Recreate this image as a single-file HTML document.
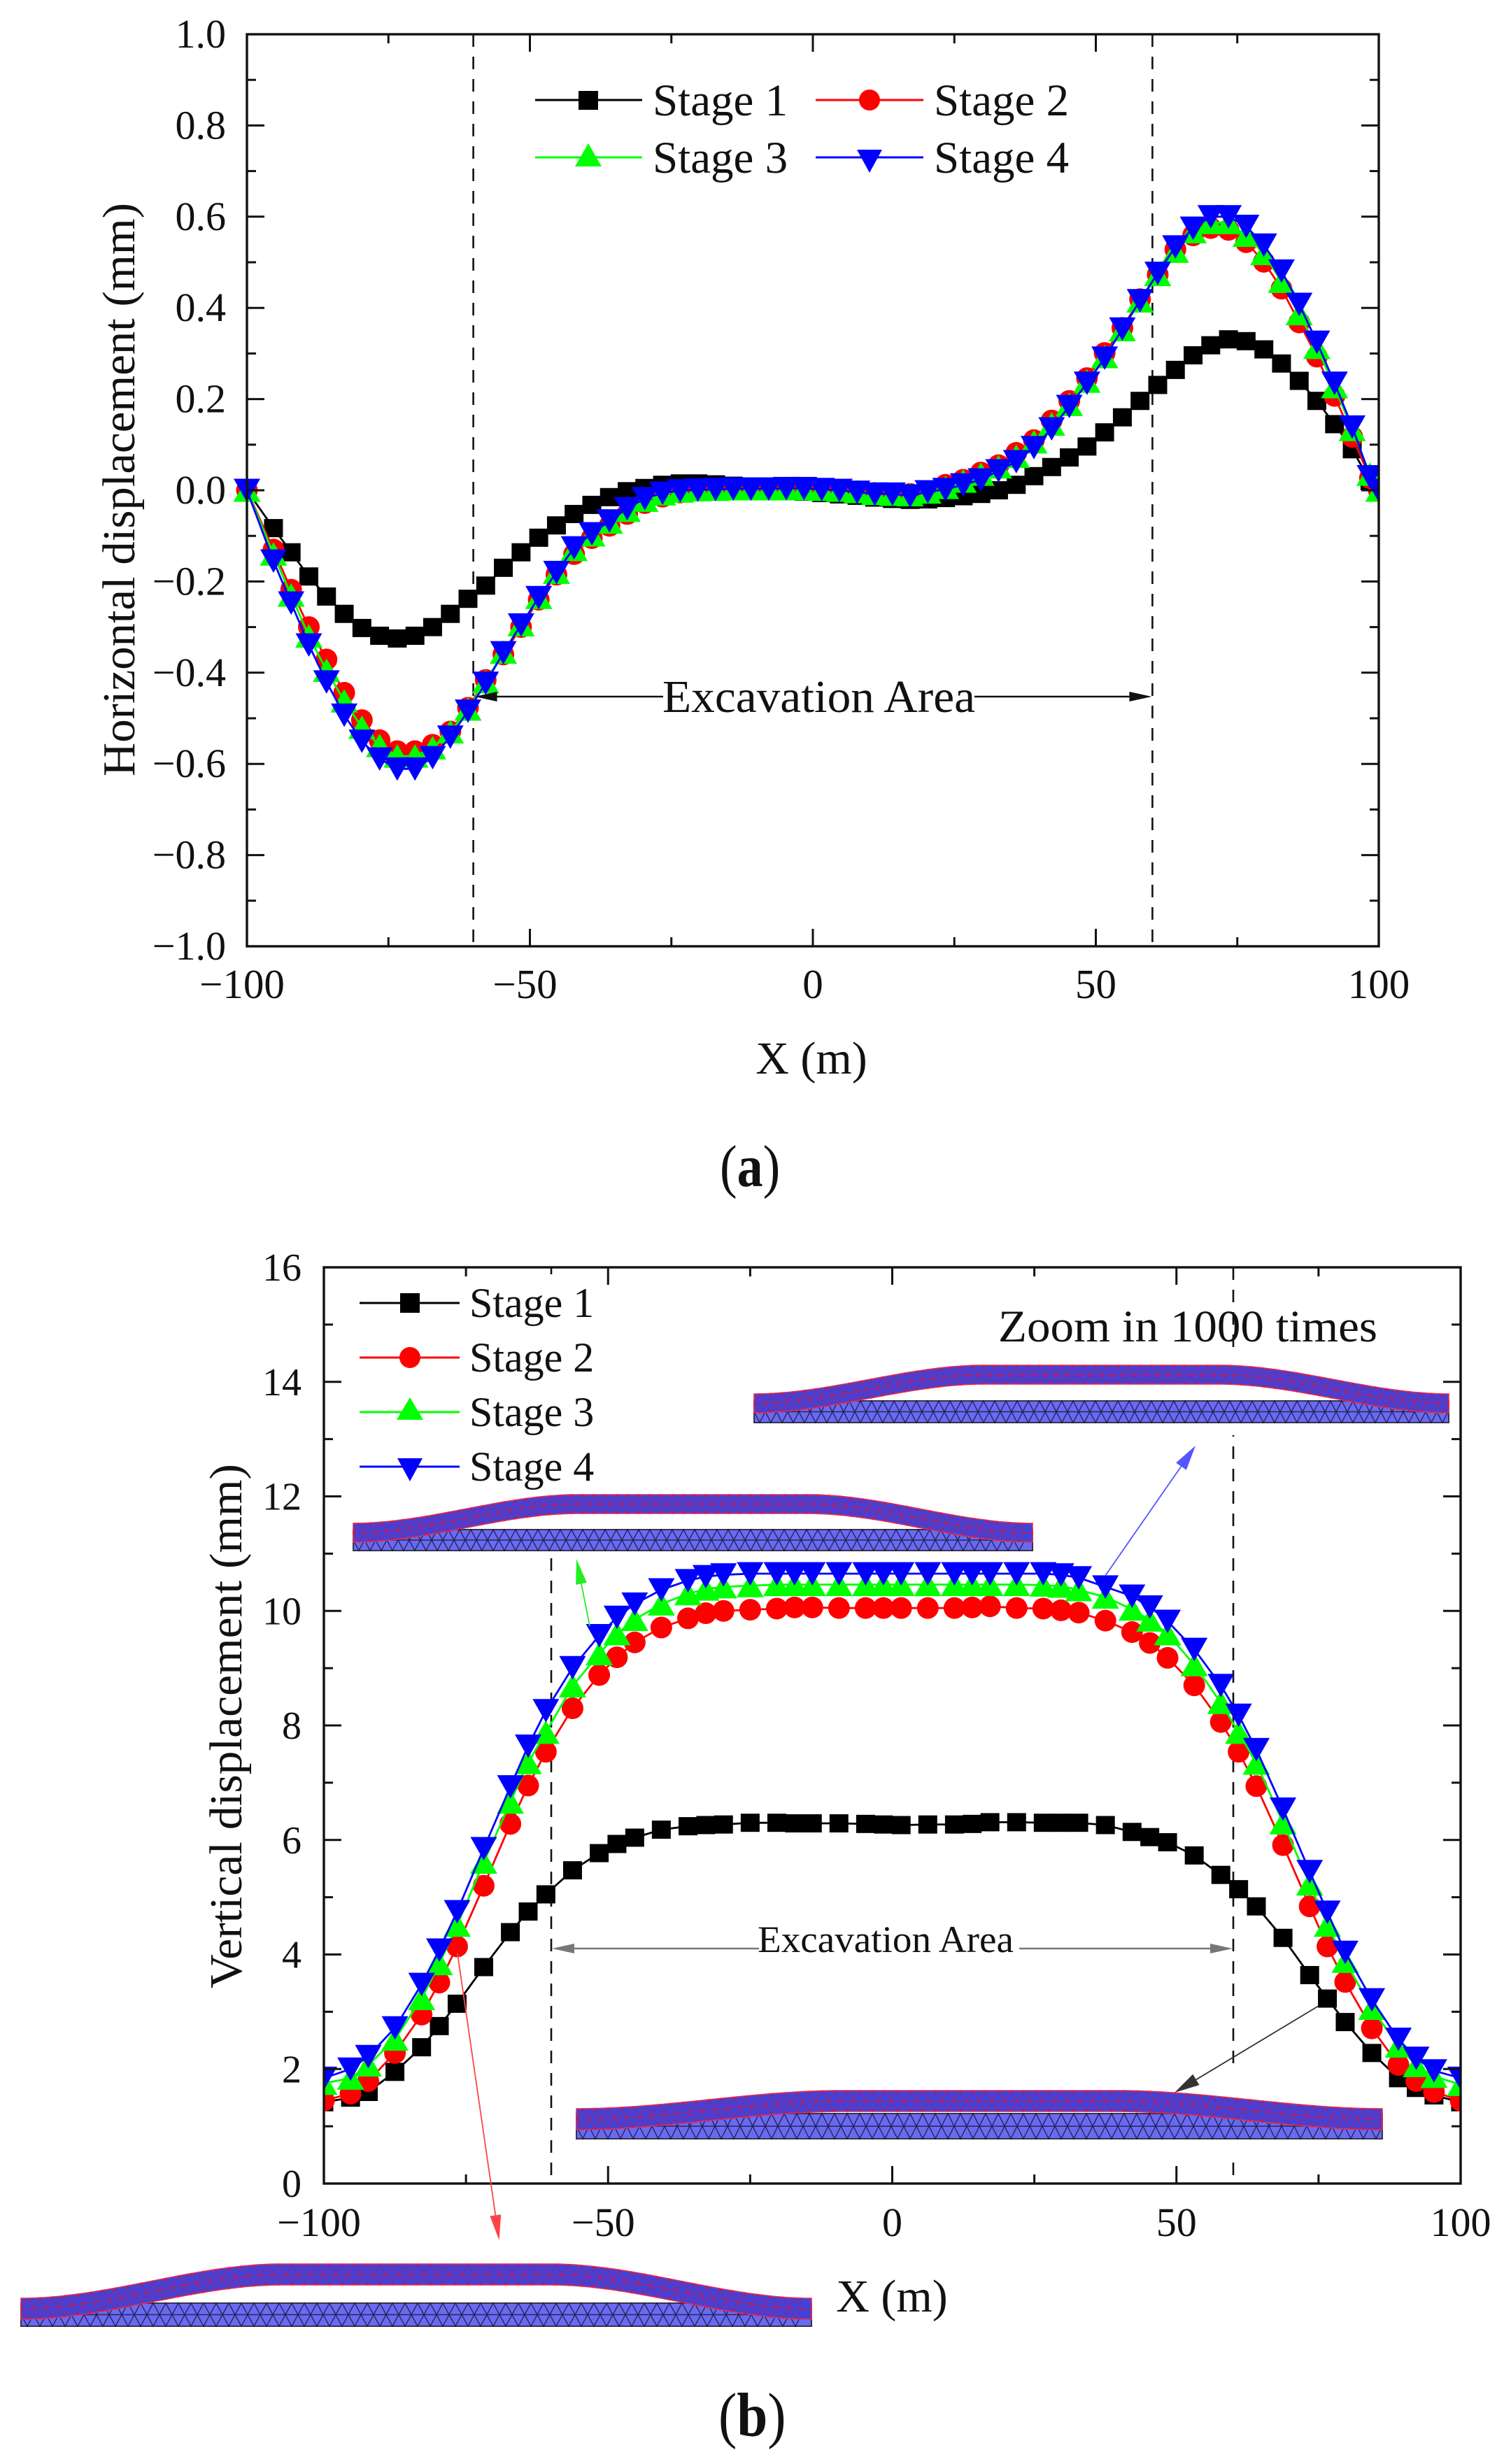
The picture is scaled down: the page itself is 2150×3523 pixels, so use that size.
<!DOCTYPE html>
<html lang="en">
<head>
<meta charset="utf-8">
<title>Horizontal and vertical displacement by excavation stage</title>
<style>
html,body{margin:0;padding:0;background:#fff;}
svg{display:block;font-family:"Liberation Serif","Times New Roman",serif;fill:#111;}
</style>
</head>
<body>
<svg id="figure" width="2150" height="3523" viewBox="0 0 2150 3523" xmlns="http://www.w3.org/2000/svg">
  <rect x="0" y="0" width="2150" height="3523" fill="#fff"/>
  <defs>
    <clipPath id="clipA"><rect x="330" y="49" width="1641" height="1304"/></clipPath>
    <clipPath id="clipB"><rect x="463" y="1812" width="1625" height="1310"/></clipPath>
  </defs>

  <g id="chartA"></g>
  <g id="chartB"></g>

  <text transform="translate(192,1110) rotate(-90)" font-size="66" textLength="820" lengthAdjust="spacingAndGlyphs">Horizontal displacement (mm)</text>
  <text x="1160" y="1535" font-size="66" text-anchor="middle">X (m)</text>
  <text x="947" y="1018" font-size="66" textLength="447" lengthAdjust="spacingAndGlyphs">Excavation Area</text>
  <text transform="translate(1029,1696) scale(1,1.15)" font-size="74">(<tspan font-weight="bold">a</tspan>)</text>

  <g>
    <g>
      <line x1="765" y1="143" x2="918" y2="143" stroke="#000" stroke-width="3"/>
      <rect x="827" y="130" width="28" height="27" fill="#000"/>
      <text x="933" y="165" font-size="65">Stage 1</text>
    </g>
    <g>
      <line x1="1166" y1="143" x2="1320" y2="143" stroke="#f00" stroke-width="3"/>
      <circle cx="1243" cy="143" r="15" fill="#f00"/>
      <text x="1335" y="165" font-size="65">Stage 2</text>
    </g>
    <g>
      <line x1="765" y1="225" x2="918" y2="225" stroke="#0f0" stroke-width="3"/>
      <polygon points="841,205 860,238 822,238" fill="#0f0"/>
      <text x="933" y="247" font-size="65">Stage 3</text>
    </g>
    <g>
      <line x1="1166" y1="225" x2="1320" y2="225" stroke="#00f" stroke-width="3"/>
      <polygon points="1243,247 1225,214 1261,214" fill="#00f"/>
      <text x="1335" y="247" font-size="65">Stage 4</text>
    </g>
  </g>

  <text transform="translate(345,2843) rotate(-90)" font-size="66" textLength="750" lengthAdjust="spacingAndGlyphs">Vertical displacement (mm)</text>
  <text x="1275" y="3305" font-size="66" text-anchor="middle">X (m)</text>
  <text x="1083" y="2791" font-size="54" textLength="366" lengthAdjust="spacingAndGlyphs">Excavation Area</text>
  <text x="1427" y="1918" font-size="65" textLength="542" lengthAdjust="spacingAndGlyphs">Zoom in 1000 times</text>
  <text transform="translate(1027,3483) scale(1,1.13)" font-size="79">(<tspan font-weight="bold">b</tspan>)</text>

  <g>
    <g>
      <line x1="514" y1="1863" x2="657" y2="1863" stroke="#000" stroke-width="3"/>
      <rect x="572" y="1849" width="28" height="28" fill="#000"/>
      <text x="671" y="1883" font-size="60">Stage 1</text>
    </g>
    <g>
      <line x1="514" y1="1941" x2="657" y2="1941" stroke="#f00" stroke-width="3"/>
      <circle cx="586" cy="1941" r="15" fill="#f00"/>
      <text x="671" y="1961" font-size="60">Stage 2</text>
    </g>
    <g>
      <line x1="514" y1="2019" x2="657" y2="2019" stroke="#0f0" stroke-width="3"/>
      <polygon points="586,1998 605,2030 567,2030" fill="#0f0"/>
      <text x="671" y="2039" font-size="60">Stage 3</text>
    </g>
    <g>
      <line x1="514" y1="2097" x2="657" y2="2097" stroke="#00f" stroke-width="3"/>
      <polygon points="586,2118 568,2085 604,2085" fill="#00f"/>
      <text x="671" y="2117" font-size="60">Stage 4</text>
    </g>
  </g>
</svg>

<script>
// ---------- Chart (a): horizontal displacement ----------
const xValuesA = [-100,-95.31,-92.19,-89.06,-85.94,-82.81,-79.69,-76.56,-73.44,-70.31,-67.19,-64.06,-60.94,-57.81,-54.69,-51.56,-48.44,-45.31,-42.19,-39.06,-35.94,-32.81,-29.69,-26.56,-23.44,-20.31,-17.19,-14.06,-10.94,-7.81,-4.69,-1.56,1.56,4.69,7.81,10.94,14.06,17.19,20.31,23.44,26.56,29.69,32.81,35.94,39.06,42.19,45.31,48.44,51.56,54.69,57.81,60.94,64.06,67.19,70.31,73.44,76.56,79.69,82.81,85.94,89.06,92.19,95.31,98.44,100];
const stage1A = [0,-.083,-.136,-.189,-.233,-.271,-.302,-.319,-.325,-.319,-.30,-.271,-.238,-.209,-.17,-.136,-.104,-.077,-.052,-.032,-.015,-.002,.005,.012,.015,.015,.013,.01,.007,.004,0,-.003,-.006,-.009,-.012,-.016,-.019,-.021,-.02,-.017,-.013,-.008,0,.012,.031,.051,.072,.096,.127,.160,.196,.231,.264,.296,.318,.331,.327,.309,.278,.240,.196,.145,.090,.020,0];
const stage2A = [0,-.13,-.218,-.30,-.371,-.444,-.504,-.548,-.572,-.572,-.558,-.529,-.477,-.416,-.36,-.30,-.24,-.185,-.14,-.105,-.078,-.052,-.028,-.014,-.005,-.001,.001,.002,.002,.002,.003,.003,.002,0,-.003,-.006,-.009,-.008,-.002,.012,.023,.039,.055,.082,.11,.153,.196,.246,.301,.356,.419,.473,.528,.559,.575,.571,.544,.501,.442,.368,.293,.207,.117,.027,0];
const stage3A = [0,-.14,-.23,-.32,-.395,-.462,-.52,-.56,-.583,-.583,-.565,-.53,-.48,-.42,-.355,-.295,-.235,-.18,-.13,-.098,-.07,-.044,-.022,-.008,-.002,.001,.002,.003,.003,.003,.003,.003,.002,0,-.003,-.007,-.009,-.010,-.004,.006,.02,.035,.051,.074,.106,.145,.188,.239,.293,.352,.415,.473,.524,.567,.587,.587,.559,.519,.458,.387,.313,.227,.133,.035,0];
const stage4A = [0,-.155,-.247,-.339,-.42,-.493,-.55,-.589,-.611,-.611,-.586,-.541,-.484,-.423,-.356,-.295,-.235,-.18,-.126,-.095,-.067,-.04,-.018,-.006,-.001,.001,.002,.003,.003,.003,.004,.004,.002,0,-.004,-.008,-.008,-.012,-.003,.002,.012,.023,.043,.063,.094,.135,.184,.235,.29,.354,.416,.476,.534,.575,.60,.60,.579,.538,.481,.408,.325,.235,.139,.03,0];
const xTickValuesA = [-100,-50,0,50,100];
const xTickLabelsA = ['\u2212100','\u221250','0','50','100'];
const yTickValuesA = [-1,-0.8,-0.6,-0.4,-0.2,0,0.2,0.4,0.6,0.8,1];
const yTickLabelsA = ['\u22121.0','\u22120.8','\u22120.6','\u22120.4','\u22120.2','0.0','0.2','0.4','0.6','0.8','1.0'];

// ---------- Chart (b): vertical displacement ----------
const xValuesB = [-100,-95.31,-92.19,-87.5,-82.81,-79.69,-76.56,-71.88,-67.19,-64.06,-60.94,-56.25,-51.56,-48.44,-45.31,-40.63,-35.94,-32.81,-29.69,-25,-20.31,-17.19,-14.06,-9.38,-4.69,-1.56,1.56,6.25,10.94,14.06,17.19,21.88,26.56,29.69,32.81,37.5,42.19,45.31,48.44,53.13,57.81,60.94,64.06,68.75,73.44,76.56,79.69,84.38,89.06,92.19,95.31,100];
const stage1B = [1.42,1.50,1.60,1.95,2.38,2.75,3.14,3.78,4.39,4.75,5.05,5.47,5.77,5.93,6.04,6.18,6.24,6.26,6.27,6.30,6.30,6.29,6.29,6.29,6.28,6.27,6.26,6.27,6.27,6.28,6.31,6.31,6.30,6.30,6.30,6.26,6.14,6.05,5.96,5.73,5.39,5.14,4.84,4.29,3.64,3.23,2.82,2.28,1.84,1.67,1.54,1.42];
const stage2B = [1.45,1.57,1.79,2.28,2.95,3.51,4.14,5.2,6.28,6.95,7.54,8.30,8.88,9.19,9.45,9.71,9.87,9.96,10.0,10.02,10.04,10.06,10.06,10.05,10.05,10.05,10.05,10.05,10.05,10.06,10.08,10.05,10.04,10.01,9.97,9.83,9.63,9.44,9.18,8.70,8.06,7.54,6.94,5.91,4.84,4.14,3.52,2.71,2.07,1.79,1.60,1.45];
const stage3B = [1.75,1.84,2.07,2.52,3.23,3.84,4.51,5.61,6.66,7.35,7.88,8.69,9.25,9.60,9.85,10.12,10.30,10.38,10.42,10.44,10.46,10.46,10.46,10.46,10.46,10.46,10.46,10.46,10.46,10.46,10.46,10.46,10.45,10.43,10.37,10.24,10.03,9.84,9.60,9.06,8.40,7.88,7.34,6.30,5.23,4.51,3.88,3.06,2.40,2.06,1.87,1.73];
const stage4B = [1.84,2.0,2.22,2.72,3.48,4.08,4.75,5.85,6.93,7.64,8.26,9.01,9.57,9.89,10.12,10.37,10.53,10.60,10.63,10.65,10.65,10.65,10.65,10.65,10.65,10.65,10.65,10.65,10.65,10.65,10.65,10.65,10.65,10.63,10.58,10.42,10.26,10.07,9.82,9.33,8.70,8.18,7.58,6.54,5.45,4.74,4.04,3.21,2.52,2.19,1.97,1.84];
const xTickValuesB = [-100,-50,0,50,100];
const xTickLabelsB = ['\u2212100','\u221250','0','50','100'];
const yTickValuesB = [0,2,4,6,8,10,12,14,16];
const yTickLabelsB = ['0','2','4','6','8','10','12','14','16'];

const SVGNS = 'http://www.w3.org/2000/svg';
function el(parent, tag, attrs) {
  const node = document.createElementNS(SVGNS, tag);
  for (const k in attrs) node.setAttribute(k, attrs[k]);
  parent.appendChild(node);
  return node;
}
function linear(d0, d1, r0, r1) {
  return v => r0 + (v - d0) * (r1 - r0) / (d1 - d0);
}

function drawSeries(root, clipId, xs, ys, color, kind, sx, sy, key) {
  const g = el(root, 'g', {'clip-path': 'url(#' + clipId + ')'});
  
  
  const pts = xs.map((x, i) => sx(x).toFixed(1) + ',' + sy(ys[i]).toFixed(1)).join(' ');
  const line = el(g, 'polyline', {points: pts, fill: 'none', stroke: color, 'stroke-width': 2.8});
  
  
  xs.forEach((x, i) => {
    const px = sx(x), py = sy(ys[i]);
    let m;
    if (kind === 'square') {
      m = el(g, 'rect', {x: px - 13.5, y: py - 13, width: 27, height: 26, fill: color});
    } else if (kind === 'circle') {
      m = el(g, 'circle', {cx: px, cy: py, r: 15.5, fill: color});
    } else if (kind === 'up') {
      m = el(g, 'polygon', {points: px + ',' + (py - 17) + ' ' + (px + 19.5) + ',' + (py + 16.5) + ' ' + (px - 19.5) + ',' + (py + 16.5), fill: color});
    } else {
      m = el(g, 'polygon', {points: px + ',' + (py + 17) + ' ' + (px - 19) + ',' + (py - 16.5) + ' ' + (px + 19) + ',' + (py - 16.5), fill: color});
    }
    
    
  });
}

function drawAxes(root, box, sx, sy, xVals, xLabels, yVals, yLabels, opts) {
  const frame = el(root, 'rect', {x: box.l, y: box.t, width: box.r - box.l, height: box.b - box.t, fill: 'none', stroke: '#111', 'stroke-width': 3.4});
  
  

  function tick(x1, y1, x2, y2, name) {
    const t = el(root, 'line', {x1: x1, y1: y1, x2: x2, y2: y2, stroke: '#111', 'stroke-width': 3});
    
    
  }
  xVals.forEach((v, i) => {
    const px = sx(v);
    if (i > 0 && i < xVals.length - 1) {
      tick(px, box.b, px, box.b - 25, 'x-tick');
      tick(px, box.t, px, box.t + 25, 'x-tick-top');
    }
    if (i < xVals.length - 1) {
      const mid = sx((v + xVals[i + 1]) / 2);
      tick(mid, box.b, mid, box.b - 13, 'x-minor-tick');
      tick(mid, box.t, mid, box.t + 13, 'x-minor-tick-top');
    }
    const lab = el(root, 'text', {x: px + (v < 0 ? -7 : 0), y: opts.xLabelY, 'font-size': opts.xFont, 'text-anchor': 'middle'});
    lab.textContent = xLabels[i];
    
    
  });
  yVals.forEach((v, i) => {
    const py = sy(v);
    if (i > 0 && i < yVals.length - 1) {
      tick(box.l, py, box.l + 25, py, 'y-tick');
      tick(box.r, py, box.r - 25, py, 'y-tick-right');
    }
    if (i < yVals.length - 1) {
      const mid = sy((v + yVals[i + 1]) / 2);
      tick(box.l, mid, box.l + 13, mid, 'y-minor-tick');
      tick(box.r, mid, box.r - 13, mid, 'y-minor-tick-right');
    }
    const lab = el(root, 'text', {x: opts.yLabelX, y: py + 19, 'font-size': opts.yFont, 'text-anchor': 'end'});
    lab.textContent = yLabels[i];
    
    
  });
}

function drawDash(root, x, y1, y2) {
  const d = el(root, 'line', {x1: x, y1: y1, x2: x, y2: y2, stroke: '#111', 'stroke-width': 2.6, 'stroke-dasharray': '18 14'});
  
  
}

function drawArrow(root, x1, y1, x2, y2, color, width, headLen, headHalf, name) {
  const a = Math.atan2(y2 - y1, x2 - x1);
  const bx = x2 - Math.cos(a) * headLen, by = y2 - Math.sin(a) * headLen;
  const g = el(root, 'g', {});
  
  
  el(g, 'line', {x1: x1, y1: y1, x2: bx, y2: by, stroke: color, 'stroke-width': width});
  const nx = -Math.sin(a) * headHalf, ny = Math.cos(a) * headHalf;
  el(g, 'polygon', {points: x2 + ',' + y2 + ' ' + (bx + nx) + ',' + (by + ny) + ' ' + (bx - nx) + ',' + (by - ny), fill: color});
}

// Small deformed-mesh illustrations placed over chart (b)
function smooth(t) { return t * t * (3 - 2 * t); }
function profile(t) {
  const span = 0.33;
  if (t < span) return smooth(t / span);
  if (t > 1 - span) return smooth((1 - t) / span);
  return 1;
}
function drawInset(root, cfg, name) {
  const g = el(root, 'g', {});
  
  
  const w = cfg.x1 - cfg.x0;
  el(g, 'rect', {x: cfg.bx0, y: cfg.by0, width: cfg.bx1 - cfg.bx0, height: cfg.by1 - cfg.by0, fill: '#fff'});
  // undeformed base mesh
  el(g, 'rect', {x: cfg.x0, y: cfg.baseTop, width: w, height: cfg.baseBot - cfg.baseTop, fill: '#6a6af0', stroke: '#33334f', 'stroke-width': 2});
  const mid = (cfg.baseTop + cfg.baseBot) / 2, step = cfg.cell;
  let d = 'M' + cfg.x0 + ' ' + mid + 'H' + cfg.x1;
  for (let x = cfg.x0; x + step <= cfg.x1; x += step) {
    const c = x + step / 2;
    d += 'M' + x + ' ' + mid + 'L' + c + ' ' + cfg.baseTop + 'L' + (x + step) + ' ' + mid + 'L' + c + ' ' + cfg.baseBot + 'Z';
  }
  el(g, 'path', {d: d, fill: 'none', stroke: '#14143c', 'stroke-width': 1.4, 'stroke-opacity': .8});
  // deformed mesh
  const th = cfg.thick;
  const top = t => cfg.endTop + (cfg.midTop - cfg.endTop) * profile(t);
  const n = 100;
  let outline = '', midLine = '';
  for (let i = 0; i <= n; i++) {
    const t = i / n;
    outline += (i ? 'L' : 'M') + (cfg.x0 + w * t).toFixed(1) + ' ' + top(t).toFixed(1);
    midLine += (i ? 'L' : 'M') + (cfg.x0 + w * t).toFixed(1) + ' ' + (top(t) + th / 2).toFixed(1);
  }
  for (let i = n; i >= 0; i--) {
    const t = i / n;
    outline += 'L' + (cfg.x0 + w * t).toFixed(1) + ' ' + (top(t) + th).toFixed(1);
  }
  el(g, 'path', {d: outline + 'Z', fill: '#4242d8', stroke: '#ee2a48', 'stroke-width': 1.6});
  let mesh = midLine;
  for (let x = cfg.x0; x + step <= cfg.x1; x += step) {
    const t0 = (x - cfg.x0) / w, tc = (x + step / 2 - cfg.x0) / w, t1 = (x + step - cfg.x0) / w;
    mesh += 'M' + x.toFixed(1) + ' ' + (top(t0) + th / 2).toFixed(1) + 'L' + (x + step / 2).toFixed(1) + ' ' + top(tc).toFixed(1) + 'L' + (x + step).toFixed(1) + ' ' + (top(t1) + th / 2).toFixed(1) + 'L' + (x + step / 2).toFixed(1) + ' ' + (top(tc) + th).toFixed(1) + 'Z';
  }
  el(g, 'path', {d: mesh, fill: 'none', stroke: '#c81450', 'stroke-width': 1.3, 'stroke-opacity': .75});
}

// ---------- render chart (a) ----------
const boxA = {l: 353, r: 1971, t: 49, b: 1353};
const sxA = linear(-100, 100, boxA.l, boxA.r);
const syA = linear(-1, 1, boxA.b, boxA.t);
const rootA = document.getElementById('chartA');
drawDash(rootA, sxA(-60), boxA.t, boxA.b);
drawDash(rootA, sxA(60), boxA.t, boxA.b);
drawSeries(rootA, 'clipA', xValuesA, stage1A, '#000', 'square', sxA, syA, 'stage-1');
drawSeries(rootA, 'clipA', xValuesA, stage2A, '#f00', 'circle', sxA, syA, 'stage-2');
drawSeries(rootA, 'clipA', xValuesA, stage3A, '#0f0', 'up', sxA, syA, 'stage-3');
drawSeries(rootA, 'clipA', xValuesA, stage4A, '#00f', 'down', sxA, syA, 'stage-4');
drawAxes(rootA, boxA, sxA, syA, xTickValuesA, xTickLabelsA, yTickValuesA, yTickLabelsA, {xLabelY: 1427, xFont: 59, yLabelX: 323, yFont: 58});
drawArrow(rootA, 948, 996, sxA(-60) + 2, 996, '#111', 2.6, 32, 7, 'excavation-arrow-left');
drawArrow(rootA, 1393, 996, sxA(60) - 1, 996, '#111', 2.6, 32, 7, 'excavation-arrow-right');

// ---------- render chart (b) ----------
const boxB = {l: 463, r: 2088, t: 1812, b: 3122};
const sxB = linear(-100, 100, boxB.l, boxB.r);
const syB = linear(0, 16, boxB.b, boxB.t);
const rootB = document.getElementById('chartB');
drawDash(rootB, sxB(-60), boxB.t, boxB.b);
drawDash(rootB, sxB(60), boxB.t, boxB.b);
const dashMask = el(rootB, 'rect', {x: 770, y: 1822, width: 40, height: 404, fill: '#fff'});


drawSeries(rootB, 'clipB', xValuesB, stage1B, '#000', 'square', sxB, syB, 'stage-1');
drawSeries(rootB, 'clipB', xValuesB, stage2B, '#f00', 'circle', sxB, syB, 'stage-2');
drawSeries(rootB, 'clipB', xValuesB, stage3B, '#0f0', 'up', sxB, syB, 'stage-3');
drawSeries(rootB, 'clipB', xValuesB, stage4B, '#00f', 'down', sxB, syB, 'stage-4');
drawInset(rootB, {x0: 1078, x1: 2071, bx0: 1068, bx1: 2080, by0: 1936, by1: 2052, baseTop: 2003, baseBot: 2034, endTop: 1993, midTop: 1952, thick: 27, cell: 16}, 'mesh-inset-stage-4');
drawInset(rootB, {x0: 505, x1: 1476, bx0: 498, bx1: 1482, by0: 2125, by1: 2226, baseTop: 2187, baseBot: 2217, endTop: 2178, midTop: 2137, thick: 27, cell: 16}, 'mesh-inset-stage-3');
drawInset(rootB, {x0: 824, x1: 1976, bx0: 815, bx1: 1984, by0: 2962, by1: 3092, baseTop: 3022, baseBot: 3058, endTop: 3015, midTop: 2989, thick: 30, cell: 18}, 'mesh-inset-stage-1');
drawInset(rootB, {x0: 30, x1: 1160, bx0: 22, bx1: 1168, by0: 3215, by1: 3345, baseTop: 3293, baseBot: 3326, endTop: 3286, midTop: 3237, thick: 30, cell: 18}, 'mesh-inset-stage-2');
drawAxes(rootB, boxB, sxB, syB, xTickValuesB, xTickLabelsB, yTickValuesB, yTickLabelsB, {xLabelY: 3197, xFont: 58, yLabelX: 431, yFont: 56});
drawArrow(rootB, 1085, 2786, sxB(-60) + 1, 2786, '#777', 2.4, 32, 7, 'excavation-arrow-left-b');
drawArrow(rootB, 1457, 2786, sxB(60) - 1, 2786, '#777', 2.4, 32, 7, 'excavation-arrow-right-b');
drawArrow(rootB, 843, 2325, 824, 2229, '#22ee22', 1.8, 36, 8, 'callout-arrow-stage-3');
drawArrow(rootB, 1580, 2253, 1709, 2067, '#5555ff', 1.8, 36, 9, 'callout-arrow-stage-4');
drawArrow(rootB, 1885, 2868, 1679, 2992, '#333', 1.8, 36, 9, 'callout-arrow-stage-1');
drawArrow(rootB, 654, 2793, 713.5, 3203, '#ff4444', 1.8, 36, 8, 'callout-arrow-stage-2');
</script>
</body>
</html>
